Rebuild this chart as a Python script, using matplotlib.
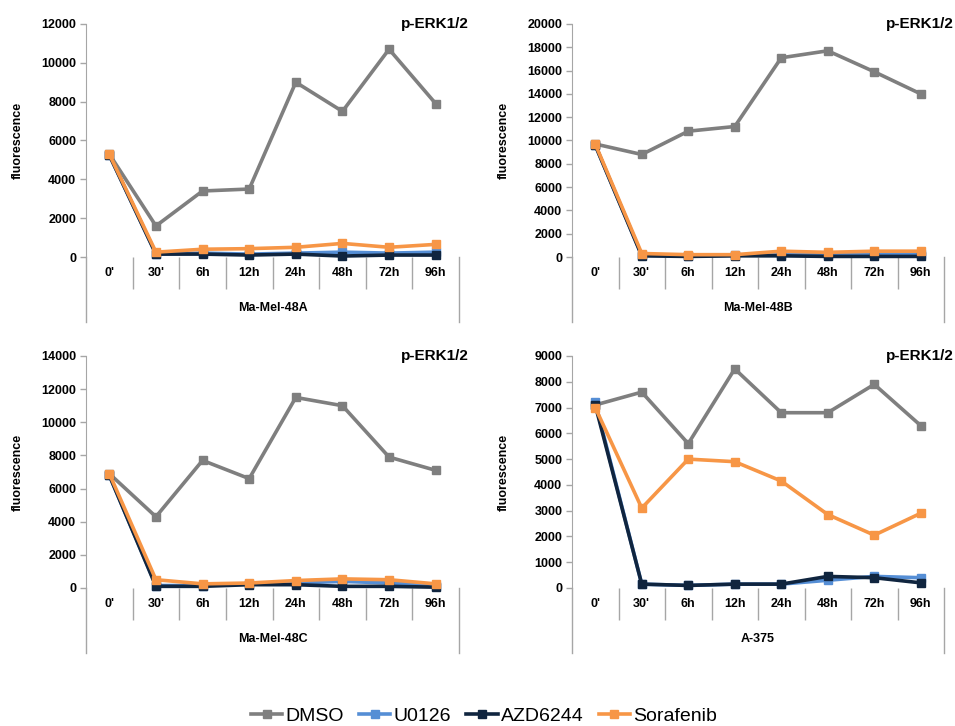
import numpy as np
import matplotlib.pyplot as plt
import matplotlib.transforms as mtransforms
from matplotlib.ticker import FixedLocator

plt.rcParams['font.family'] = ['Liberation Sans', 'DejaVu Sans']

# time points and treatments
times = ["0'", "30'", "6h", "12h", "24h", "48h", "72h", "96h"]
treatments = ['DMSO', 'U0126', 'AZD6244', 'Sorafenib']
colors = ['#7f7f7f', '#558ed5', '#10253f', '#f79646']

# p-ERK1/2 fluorescence per cell line
mm48a_dmso = [5300, 1600, 3400, 3500, 9000, 7500, 10700, 7900]
mm48a_u0126 = [5250, 150, 200, 150, 200, 250, 200, 250]
mm48a_azd = [5250, 150, 150, 100, 150, 50, 100, 100]
mm48a_sora = [5300, 250, 400, 430, 500, 700, 500, 650]

mm48b_dmso = [9700, 8800, 10800, 11200, 17100, 17700, 15900, 14000]
mm48b_u0126 = [9600, 150, 100, 150, 200, 200, 250, 250]
mm48b_azd = [9600, 100, 50, 100, 100, 50, 50, 50]
mm48b_sora = [9700, 300, 200, 200, 500, 400, 500, 500]

mm48c_dmso = [6900, 4300, 7700, 6600, 11500, 11000, 7900, 7100]
mm48c_u0126 = [6800, 150, 150, 250, 300, 400, 300, 150]
mm48c_azd = [6800, 100, 100, 200, 200, 100, 100, 50]
mm48c_sora = [6900, 500, 250, 300, 450, 550, 500, 250]

a375_dmso = [7100, 7600, 5600, 8500, 6800, 6800, 7900, 6300]
a375_u0126 = [7200, 150, 100, 150, 150, 300, 450, 400]
a375_azd = [7100, 150, 100, 150, 150, 450, 400, 200]
a375_sora = [7000, 3100, 5000, 4900, 4150, 2850, 2050, 2900]

panels = [
    ('Ma-Mel-48A', [mm48a_dmso, mm48a_u0126, mm48a_azd, mm48a_sora], 12000, 2000),
    ('Ma-Mel-48B', [mm48b_dmso, mm48b_u0126, mm48b_azd, mm48b_sora], 20000, 2000),
    ('Ma-Mel-48C', [mm48c_dmso, mm48c_u0126, mm48c_azd, mm48c_sora], 14000, 2000),
    ('A-375', [a375_dmso, a375_u0126, a375_azd, a375_sora], 9000, 1000),
]

W, H = 955, 726
fig = plt.figure(figsize=(W / 100, H / 100), dpi=100)

# pixel boxes: left, right, top, zero line
boxes = [(86, 459, 24, 257), (572, 944, 24, 257),
         (86, 459, 356, 588), (572, 944, 356, 588)]

axcol = '#a6a6a6'
tfont = dict(fontsize=9, fontweight='bold')

for (name, series, ymax, step), (l, r, t, b) in zip(panels, boxes):
    ax = fig.add_axes([l / W, 1 - b / H, (r - l) / W, (b - t) / H])
    x = np.arange(len(times))
    for vals, lab, c in zip(series, treatments, colors):
        ax.plot(x, vals, color=c, lw=2.6, marker='s', ms=6, label=lab,
                clip_on=False)
    ax.set_xlim(-0.5, 7.5)
    ax.set_ylim(0, ymax)
    ax.set_yticks(np.arange(0, ymax + 1, step))
    ax.set_yticklabels([str(v) for v in np.arange(0, ymax + 1, step)], **tfont)
    ax.set_xticks(x)
    ax.set_xticklabels(times, **tfont)
    ax.xaxis.set_minor_locator(FixedLocator(np.arange(0.5, 7, 1)))
    ax.tick_params(axis='x', which='major', length=0, pad=7)
    ax.tick_params(axis='x', which='minor', length=23, width=1, color=axcol,
                   direction='out')
    ax.tick_params(axis='y', length=4, width=1, color=axcol, pad=3)
    for s in ['top', 'right', 'bottom']:
        ax.spines[s].set_visible(False)
    ax.spines['left'].set_color(axcol)
    ax.set_facecolor('none')

    # long lines framing the group label below the axis
    h = b - t
    w = r - l
    trans = mtransforms.blended_transform_factory(ax.transData, ax.transAxes)
    for xe in (-0.5, 7.5):
        ax.plot([xe, xe], [0, -65 / h], color=axcol, lw=1, transform=trans,
                clip_on=False)
    ax.text(3.5, -51 / h, name, transform=trans, ha='center', va='center',
            **tfont)
    ax.text((w + 10) / w, 1.0, 'p-ERK1/2', transform=ax.transAxes,
            ha='right', va='center', fontsize=11, fontweight='bold')
    ax.text(-68 / w, 0.5, 'fluorescence', transform=ax.transAxes,
            rotation=90, ha='center', va='center', fontsize=9,
            fontweight='bold')

handles, labels = ax.get_legend_handles_labels()
fig.legend(handles, labels, loc='center', bbox_to_anchor=(484 / W, 1 - 716 / H),
           ncol=4, frameon=False, fontsize=14, handlelength=1.6,
           handletextpad=0.15, columnspacing=0.8)

fig.savefig('out.png', dpi=100, facecolor='white')
